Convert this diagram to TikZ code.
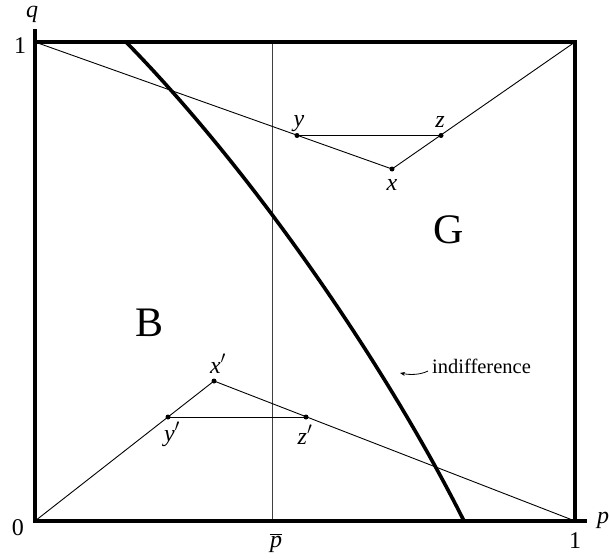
\documentclass[tikz,border=0pt]{standalone}
\usepackage{fontspec}
\setmainfont{Liberation Serif}
\usetikzlibrary{arrows.meta}
\begin{document}
\begin{tikzpicture}[x=1pt,y=-1pt,
  thinline/.style={line width=0.9pt,black},
  frame/.style={line width=3.2pt,black},
  axis/.style={line width=3.8pt,black},
  curve/.style={line width=3.6pt,black},
  dot/.style={circle,fill=black,inner sep=0pt,minimum size=5pt},
  lab/.style={inner sep=0pt,anchor=base,font=\fontsize{24}{28}\selectfont},
  big/.style={inner sep=0pt,anchor=base,font=\fontsize{42}{46}\selectfont}]
\useasboundingbox (0,0) rectangle (610,559);
% corners
\coordinate (O) at (35,521);
\coordinate (TL) at (35,42);
\coordinate (TR) at (575,42);
\coordinate (BR) at (575,521);
\coordinate (Yend) at (35,29);
\coordinate (Xend) at (587,521);
\coordinate (Vt) at (272,42);
\coordinate (Vb) at (272,521);
\coordinate (Ct) at (126,42);
\coordinate (Cb) at (464,521);
% points
\node[dot] (x) at (392,169) {};
\node[dot] (y) at (297,135.5) {};
\node[dot] (z) at (441,135.5) {};
\node[dot] (xp) at (214,381) {};
\node[dot] (yp) at (168,417) {};
\node[dot] (zp) at (306,417) {};
% thin lines
\draw[line width=0.8pt,black!75] (Vt) -- (Vb);
\draw[thinline] (TL) -- (x.center) -- (TR);
\draw[thinline] (y.center) -- (z.center);
\draw[thinline] (O) -- (xp.center) -- (BR);
\draw[thinline] (yp.center) -- (zp.center);
% indifference curve
\draw[curve] (Ct) .. controls (263,182) and (394,381) .. (Cb);
% frame
\draw[frame] (TL) -- (TR) -- (BR);
\draw[axis] (Yend) -- (O) -- (Xend);
% labels
\node[lab] (lq) at (32,18) {\textit{q}};
\node[lab] (l1) at (20,54) {1};
\node[lab] (l0) at (18,535) {0};
\node[lab] (l1b) at (575,548) {1};
\node[lab] (lpb) at (276,547) {$\overline{\mbox{\textit{p}}}$};
\node[lab,anchor=base west] (lp) at (597,523) {\textit{p}};
\node[lab] (ly) at (299,127) {\textit{y}};
\node[lab] (lz) at (440,128) {\textit{z}};
\node[lab] (lx) at (392,190) {\textit{x}};
\node[lab] (lxp) at (218,373) {\textit{x}$'$};
\node[lab] (lyp) at (172,441) {\textit{y}$'$};
\node[lab] (lzp) at (305,444) {\textit{z}$'$};
\node[big] (G) at (449,243) {G};
\node[big] (B) at (149.5,336) {B};
\node[inner sep=0pt,anchor=base west,font=\fontsize{20.5}{24}\selectfont] (ind) at (432,373) {indifference};
\coordinate (arrS) at (428,371);
\coordinate (arrE) at (400,373);
\draw[line width=0.8pt,-{Stealth[length=5pt,width=4pt]}] (arrS) .. controls (420,375) and (410,375) .. (arrE);
\end{tikzpicture}
\end{document}
